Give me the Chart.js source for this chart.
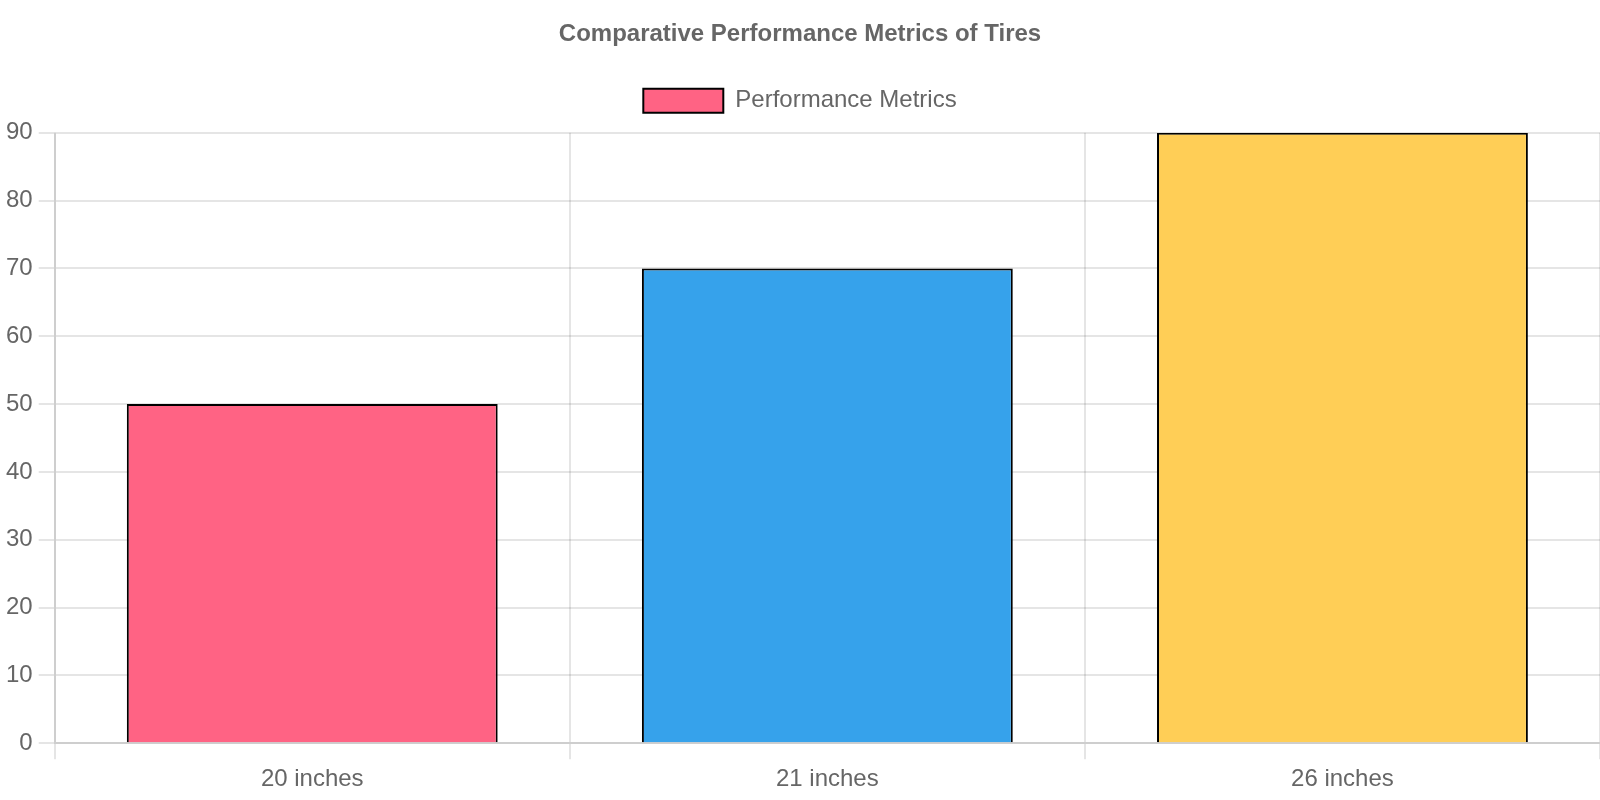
<!DOCTYPE html>
<html>
<head>
<meta charset="utf-8">
<script src="https://cdn.jsdelivr.net/npm/chart.js@4"></script>
<style>
  html, body { margin: 0; padding: 0; background: #fff; }
  #wrap { width: 1600px; height: 800px; }
</style>
</head>
<body>
<div id="wrap"><canvas id="myChart"></canvas></div>
<script>
var labels = ['20 inches', '21 inches', '26 inches'];
var metrics = [50, 70, 90];
var colors = ['rgba(255, 99, 132, 1)', 'rgba(54, 162, 235, 1)', 'rgba(255, 206, 86, 1)'];

Chart.defaults.font.size = 24;

// a bit more room under the legend
var legendGap = {
  id: 'legendGap',
  beforeInit: function (chart) {
    var fit = chart.legend.fit;
    chart.legend.fit = function () {
      fit.bind(chart.legend)();
      this.height += 10;
    };
  }
};

var ctx = document.getElementById('myChart').getContext('2d');
var myChart = new Chart(ctx, {
  type: 'bar',
  data: {
    labels: labels,
    datasets: [{
      label: 'Performance Metrics',
      data: metrics,
      backgroundColor: colors,
      borderColor: 'rgba(0, 0, 0, 1)',
      borderWidth: 2
    }]
  },
  plugins: [legendGap],
  options: {
    responsive: true,
    maintainAspectRatio: false,
    animation: false,
    plugins: {
      title: {
        display: true,
        text: 'Comparative Performance Metrics of Tires',
        padding: 20
      },
      legend: {
        labels: { boxWidth: 80, padding: 20 }
      }
    },
    scales: {
      x: {
        grid: { lineWidth: 2, tickLength: 16 },
        border: { width: 2 },
        ticks: { padding: 6 }
      },
      y: {
        beginAtZero: true,
        grid: { lineWidth: 2, tickLength: 16 },
        border: { width: 2 },
        ticks: { padding: 6 }
      }
    }
  }
});
</script>
</body>
</html>
